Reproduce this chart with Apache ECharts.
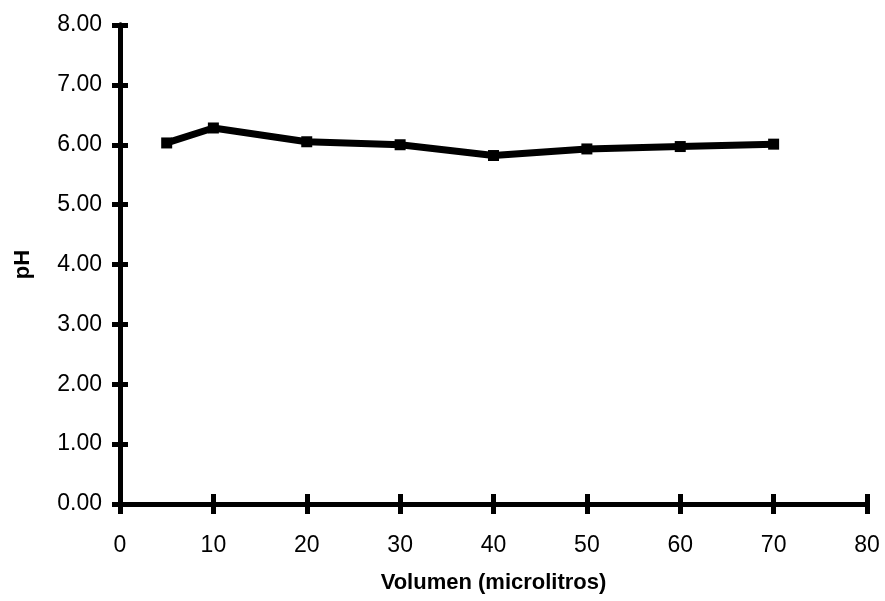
<!DOCTYPE html>
<html><head><meta charset="utf-8">
<script src="https://cdn.jsdelivr.net/npm/echarts@6/dist/echarts.min.js"></script>
<style>html,body{margin:0;padding:0;background:#fff}#c{width:885px;height:601px}</style>
</head><body><div id="c"></div>
<script>
var volumes = [5, 10, 20, 30, 40, 50, 60, 70];
var phValues = [6.03, 6.28, 6.05, 6.00, 5.82, 5.93, 5.97, 6.01];
var xTicks = [0, 10, 20, 30, 40, 50, 60, 70, 80];
var yTicks = [0, 1, 2, 3, 4, 5, 6, 7, 8];

var font = 'Liberation Sans, Arial, sans-serif';
var chart = echarts.init(document.getElementById('c'));
function xa(inside, show) {
  return {
    type: 'value', min: xTicks[0], max: xTicks[xTicks.length - 1], interval: 10, position: 'bottom',
    name: show ? 'Volumen (microlitros)' : '', nameLocation: 'middle', nameGap: 68,
    nameTextStyle: {fontFamily: font, fontSize: 22, fontWeight: 'bold', color: '#000'},
    axisLine: {show: true, onZero: false, lineStyle: {color: '#000', width: 5}},
    axisTick: {show: true, inside: inside, length: 10, lineStyle: {color: '#000', width: 5}},
    axisLabel: {show: show, margin: 30, fontFamily: font, fontSize: 23, color: '#000'},
    splitLine: {show: false}
  };
}
function ya(inside, show) {
  return {
    type: 'value', min: yTicks[0], max: yTicks[yTicks.length - 1], interval: 1, position: 'left',
    name: show ? 'pH' : '', nameLocation: 'middle', nameGap: 86, nameRotate: 90,
    nameTextStyle: {fontFamily: font, fontSize: 22, fontWeight: 'bold', color: '#000'},
    axisLine: {show: true, onZero: false, lineStyle: {color: '#000', width: 5}},
    axisTick: {show: true, inside: inside, length: 8, lineStyle: {color: '#000', width: 5}},
    axisLabel: {show: show, margin: 18, fontFamily: font, fontSize: 23, color: '#000',
      formatter: function (v) { return v.toFixed(2); }},
    splitLine: {show: false}
  };
}
chart.setOption({
  animation: false,
  grid: {left: 120, right: 18, top: 25, bottom: 97},
  xAxis: [xa(false, true), xa(true, false)],
  yAxis: [ya(false, true), ya(true, false)],
  series: [{
    type: 'line', xAxisIndex: 0, yAxisIndex: 0,
    data: volumes.map(function (v, i) { return [v, phValues[i]]; }),
    lineStyle: {color: '#000', width: 7},
    itemStyle: {color: '#000'},
    symbol: 'rect', symbolSize: 11, showSymbol: true
  }]
});
</script></body></html>
